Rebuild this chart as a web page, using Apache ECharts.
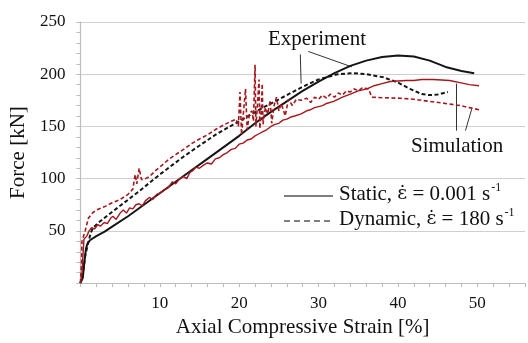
<!DOCTYPE html>
<html><head><meta charset="utf-8">
<script src="https://cdn.jsdelivr.net/npm/echarts@6/dist/echarts.min.js"></script>
<style>html,body{margin:0;padding:0;background:#fff}#c{width:528px;height:343px}</style>
</head><body><div id="c"></div>
<script>
// ---- data ----
const xLabelValues = [10, 20, 30, 40, 50];
const yLabelValues = [50, 100, 150, 200, 250];
const xTitle = 'Axial Compressive Strain [%]';
const yTitle = 'Force [kN]';
const expLabel = 'Experiment';
const simLabel = 'Simulation';
const legendStaticA = 'Static, ';
const legendStaticB = ' = 0.001 s';
const legendDynamicA = 'Dynamic, ';
const legendDynamicB = ' = 180 s';
const epsDot = '\u03B5\u0307';
const legendSup = '-1';

// Experiment, static (black solid)
const expStatic = [[0,0],[0.3,5],[0.5,20],[0.7,33],[0.9,38],[1.2,41],[2,45],[3,49],[4,54],[6,64],[8,75],[10,86],[12,97],[14,108],[16,119],[18,130],[20,141],[22,153],[24,164],[26,174],[28,184],[30,193],[32,201],[34,208],[36,213],[38,216.5],[40,218],[42,217],[44,213],[46,207],[48,203],[49.6,201]];
// Experiment, dynamic (black dashed)
const expDynamic = [[0,0],[0.3,8],[0.6,26],[1,39],[1.3,48],[1.6,53],[2.3,58],[3.3,64],[5,74],[7.4,88],[10,104],[12.8,120],[14.1,127],[17,142],[20,155],[23,168],[26,180],[28,188],[30,195],[32.4,200],[34.4,201],[36,200],[38.2,197],[40,192],[41.5,186],[43,181],[44,180],[45,180.5],[46.3,183]];
// Simulation, static (red solid)
const simStatic = [[0,0],[0.2,10],[0.35,30],[0.45,42],[0.8,45],[1.1,50],[1.4,53],[1.8,52],[2.2,56],[2.5,54.5],[3,58],[3.4,57],[3.8,62],[4.1,64],[4.5,61],[5,67],[5.4,70],[5.8,67],[6.2,72],[6.6,71],[7,75],[7.4,76],[7.8,74],[8.2,79],[8.7,82],[9.1,80],[9.6,85],[10,86],[10.5,89],[11,91],[11.6,97],[12,95],[12.5,100],[13,102],[13.4,100],[13.8,106],[14.2,108],[14.5,111],[15,110],[15.5,113],[16,115],[16.5,114],[17,119],[17.5,120],[18,123],[18.5,125],[19,128],[19.5,129],[20,133],[20.5,134],[21,137],[21.5,138],[22,141],[22.5,143],[23,145],[23.5,147],[24,150],[24.5,152],[25,153],[25.5,156],[26,157],[26.5,159],[27,160],[27.8,162],[28.5,165],[29,166],[29.5,168],[30,169],[30.5,170],[31,172],[31.9,174],[33,178],[34,181],[35,184],[36.1,186],[37,189],[38,191],[39,193],[40,193.5],[41,194],[42,194],[43,195],[44.4,195],[45.5,194.5],[46.5,194],[47.8,192],[49,190],[50.2,189]];
// Simulation, dynamic (red dashed)
const simDynamic = [[0,0],[0.15,20],[0.2,40],[0.6,50],[1.0,62],[1.5,67],[2,70],[3,73],[4,77],[5,80],[6,85],[6.6,90],[6.9,104],[7.1,95],[7.4,110],[7.7,99],[8.2,100],[8.7,102],[9.5,108],[10.3,113],[11.2,119],[12,123],[13,128],[14.1,134],[15,138],[16,142],[17,147],[18.2,152],[19,155],[19.6,157],[19.9,150],[20.1,183],[20.3,142],[20.5,160],[20.8,186],[21,147],[21.3,162],[21.6,165],[21.8,155],[22.0,209],[22.1,150],[22.3,170],[22.5,195],[22.6,148],[22.8,165],[22.9,191],[23.0,152],[23.3,168],[23.6,162],[23.9,175],[24.1,153],[24.4,170],[24.7,178],[25,165],[25.3,172],[25.8,160],[26.2,176],[26.7,170],[27.2,176],[27.8,175],[28.5,177],[29,173],[29.5,178],[30,176],[30.5,180],[31,177],[31.5,181],[32,178],[32.5,182],[33,180],[33.5,184],[34,183],[34.5,186],[35,184],[35.5,187],[36.3,186],[36.7,178],[38,177.5],[40.3,177],[42,176],[44.4,173.6],[46,172],[47.8,170],[49,168],[50.2,166]];
// annotation leader lines (data coordinates)
const expLeaders = [[[27.7,219],[27.8,191]],[[28.7,221.8],[34.2,207]]];
const simLeaders = [[[47.4,146],[47.4,191]],[[48.5,146],[49.3,167]]];

// ---- chart ----
const FONT = '"Liberation Serif", "DejaVu Serif", serif';
const BLACK = '#151515', RED = '#a3181c', AXIS = '#bdbdbd';
const chart = echarts.init(document.getElementById('c'), null, {renderer: 'canvas'});
const lineSeries = (data, color, dashed, width) => ({
  type: 'line', data, showSymbol: false, symbol: 'none', smooth: false, silent: true,
  lineStyle: {color, width, type: dashed ? [4, 2.5] : 'solid'}
});
const leaderSeries = (segs) => ({
  type: 'lines', coordinateSystem: 'cartesian2d', silent: true, polyline: false,
  lineStyle: {color: '#333', width: 1, opacity: 1},
  data: segs.map(s => ({coords: s}))
});
const legendRich = {
  a: {fontFamily: FONT, fontSize: 21, fill: '#111', lineHeight: 24},
  e: {fontFamily: '"DejaVu Serif", serif', fontSize: 19, fill: '#111', lineHeight: 24},
  s: {fontFamily: FONT, fontSize: 12, fill: '#111', lineHeight: 24, verticalAlign: 'top', padding: [0,0,10,1]}
};
chart.setOption({
  animation: false,
  backgroundColor: '#fff',
  grid: {left: 77, right: 2, top: 22, bottom: 55},
  xAxis: {
    type: 'value', min: 0, max: 56, interval: 2,
    name: xTitle, nameLocation: 'middle', nameGap: 28,
    nameTextStyle: {fontFamily: FONT, fontSize: 21, color: '#111'},
    axisLine: {show: true, lineStyle: {color: AXIS, width: 1.2}},
    axisTick: {show: true, length: 4, lineStyle: {color: AXIS}},
    axisLabel: {fontFamily: FONT, fontSize: 17, color: '#111', margin: 12,
      formatter: v => xLabelValues.includes(v) ? String(v) : ''},
    splitLine: {show: false}
  },
  yAxis: {
    type: 'value', min: 0, max: 250, interval: 50,
    name: yTitle, nameLocation: 'middle', nameGap: 30,
    nameTextStyle: {fontFamily: FONT, fontSize: 21, color: '#111'},
    axisLine: {show: true, lineStyle: {color: AXIS, width: 1.2}},
    axisTick: {show: true, length: 4, lineStyle: {color: AXIS}},
    minorTick: {show: true, splitNumber: 5, length: 4, lineStyle: {color: AXIS}},
    axisLabel: {fontFamily: FONT, fontSize: 17, color: '#111', margin: 15,
      formatter: v => yLabelValues.includes(v) ? String(v) : ''},
    splitLine: {show: true, lineStyle: {color: '#cfcfcf', width: 1.2}}
  },
  series: [
    lineSeries(expStatic, BLACK, false, 2),
    lineSeries(expDynamic, BLACK, true, 2),
    lineSeries(simStatic, RED, false, 1.4),
    lineSeries(simDynamic, RED, true, 1.6),
    leaderSeries(expLeaders),
    leaderSeries(simLeaders)
  ],
  graphic: [
    {type: 'text', left: 268, top: 29, style: {text: expLabel, font: '21px ' + FONT, fill: '#111'}},
    {type: 'text', left: 411, top: 136, style: {text: simLabel, font: '21px ' + FONT, fill: '#111'}},
    {type: 'line', shape: {x1: 284, y1: 196, x2: 333, y2: 196}, style: {stroke: '#555', lineWidth: 1.3}},
    {type: 'line', shape: {x1: 284, y1: 221, x2: 330, y2: 221}, style: {stroke: '#555', lineWidth: 1.3, lineDash: [6, 4]}},
    {type: 'text', left: 339, top: 182, style: {
      text: '{a|' + legendStaticA + '}{e|' + epsDot + '}{a|' + legendStaticB + '}{s|' + legendSup + '}', rich: legendRich}},
    {type: 'text', left: 339, top: 207, style: {
      text: '{a|' + legendDynamicA + '}{e|' + epsDot + '}{a|' + legendDynamicB + '}{s|' + legendSup + '}', rich: legendRich}}
  ]
});
</script>
</body></html>
